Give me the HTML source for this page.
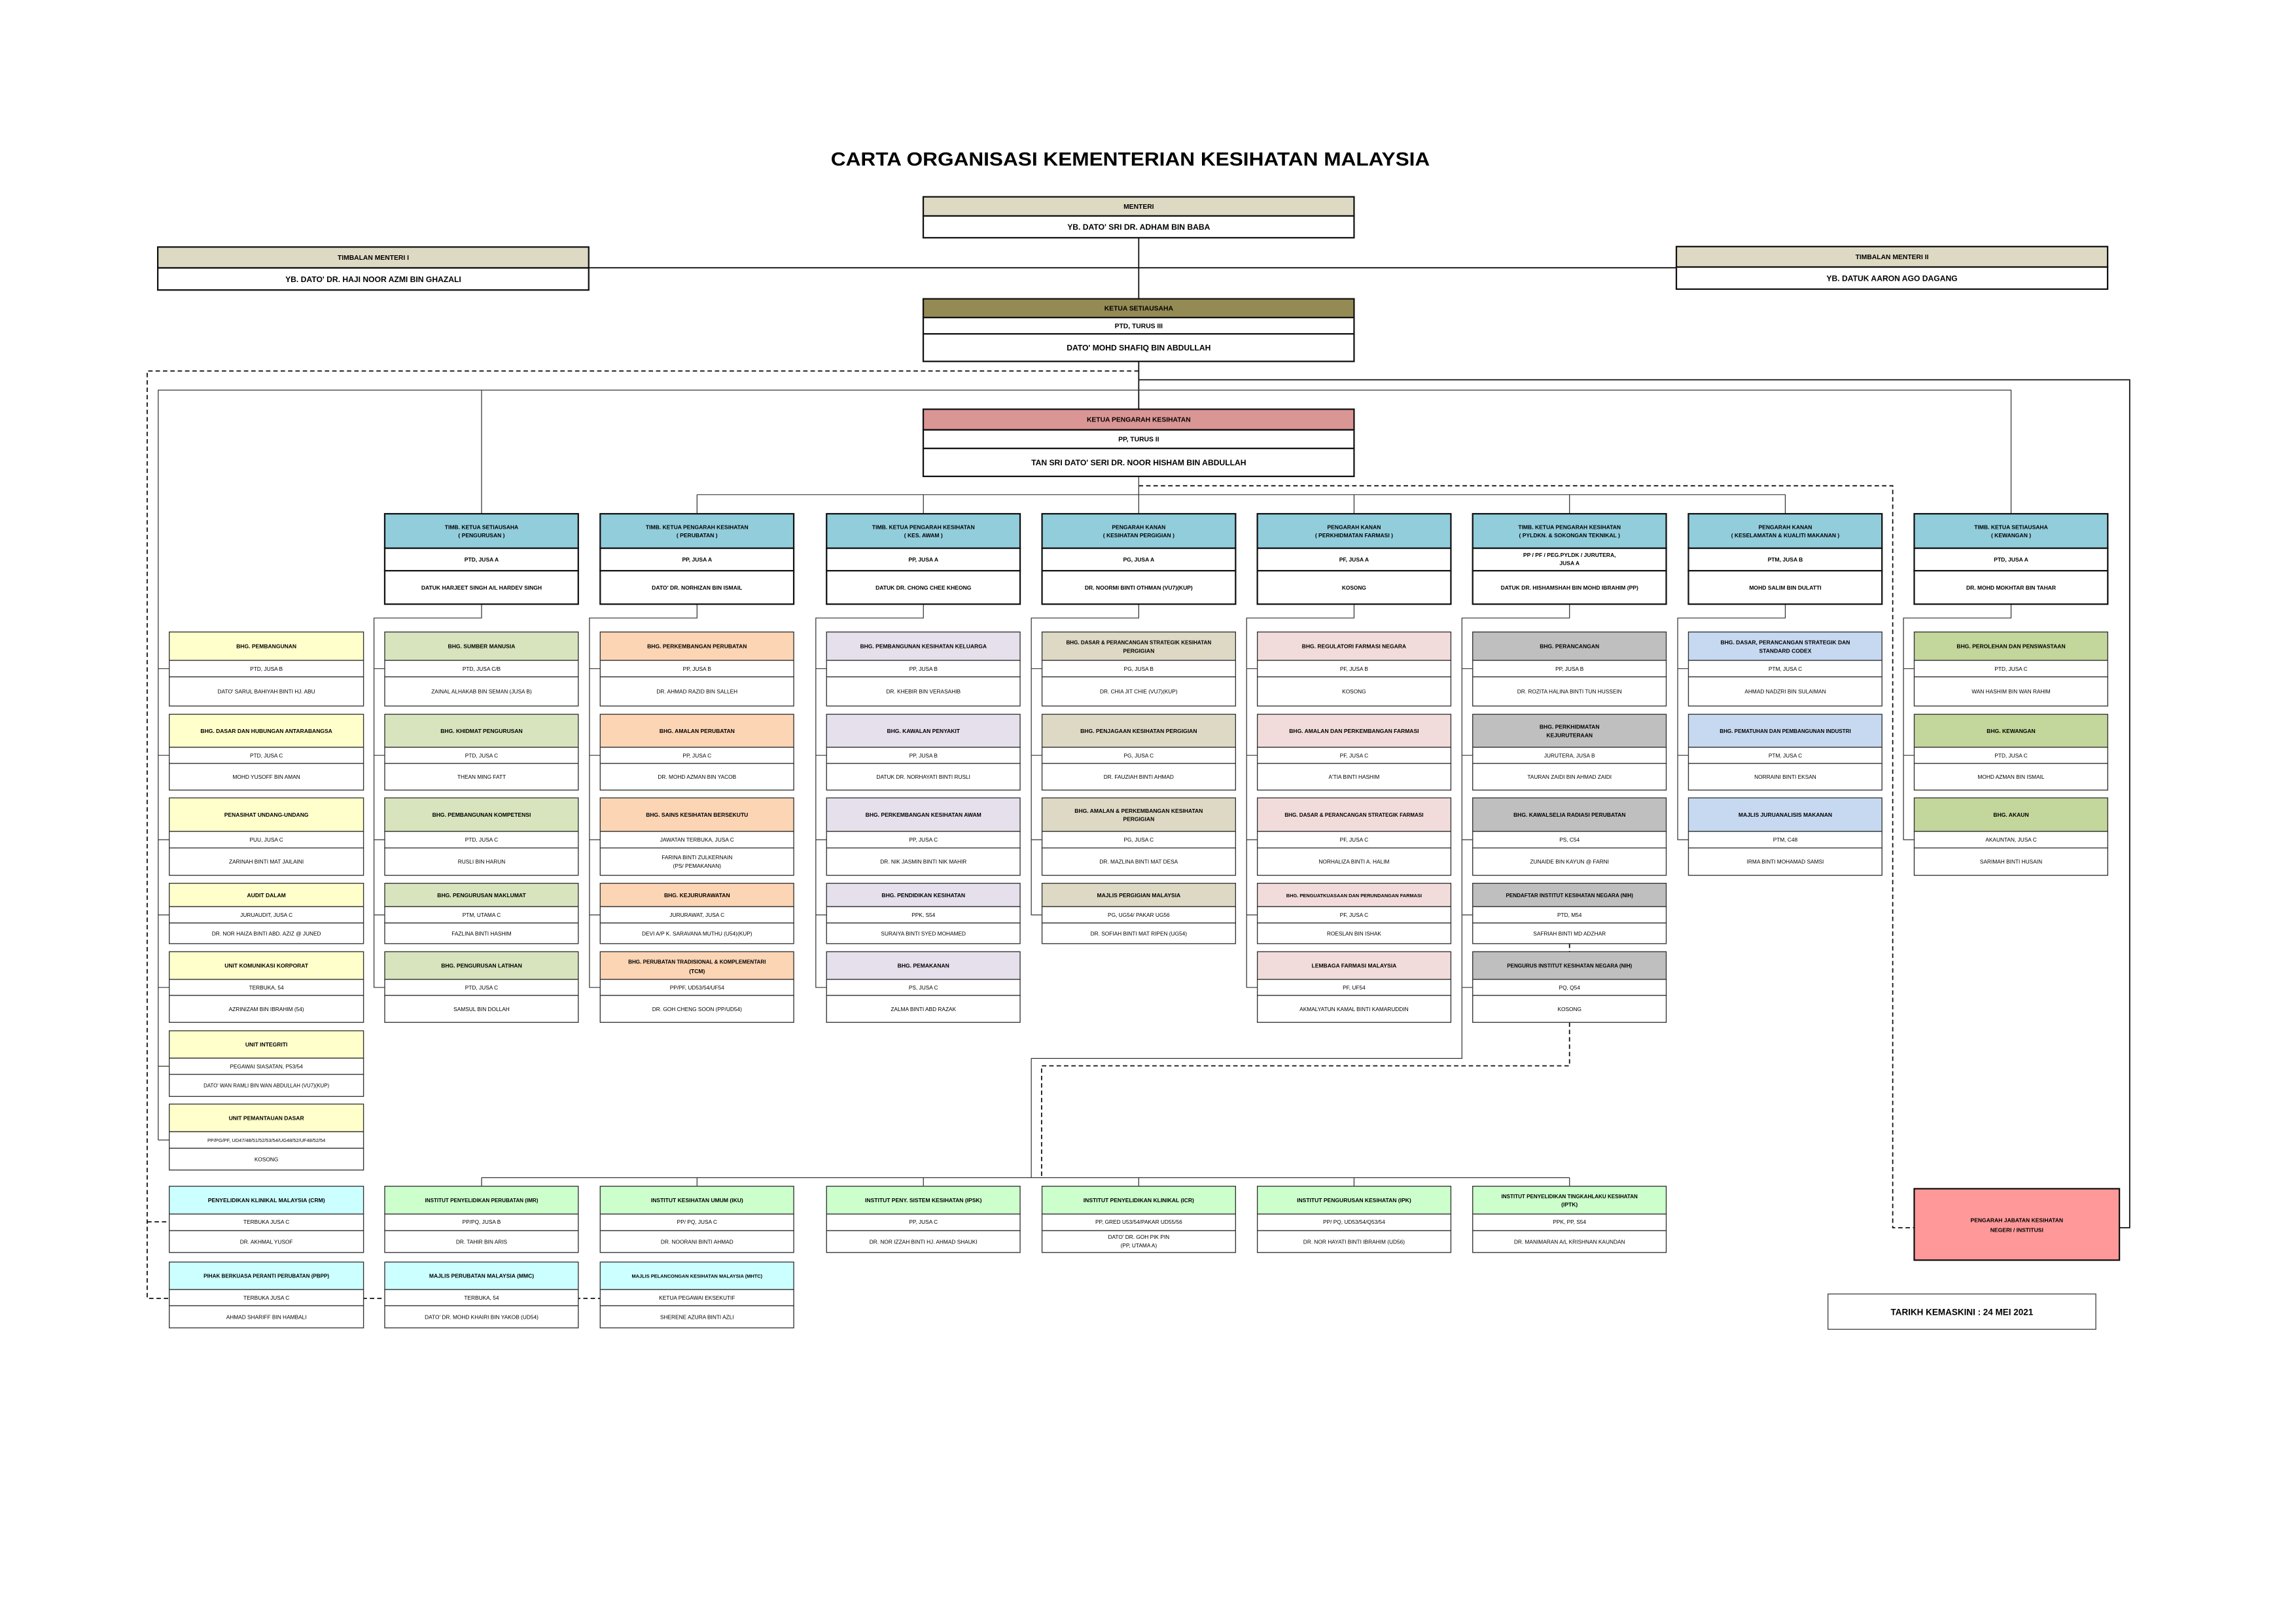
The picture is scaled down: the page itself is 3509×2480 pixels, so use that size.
<!DOCTYPE html>
<html><head><meta charset="utf-8"><style>
html,body{margin:0;padding:0;background:#fff}
svg{display:block}
text{font-family:"Liberation Sans",Arial,sans-serif;text-anchor:middle;fill:#000}
.b{stroke:#333;stroke-width:.6}
.B{stroke:#111;stroke-width:1}
.h{font-weight:bold;font-size:3.8px}
.g{font-size:3.7px}
.t{font-weight:bold;font-size:4.6px}
.T{font-weight:bold;font-size:5.4px}
.l{stroke:#333;stroke-width:.55;fill:none}
.L{stroke:#111;stroke-width:.8;fill:none}
.d{stroke:#111;stroke-width:.8;fill:none;stroke-dasharray:3 2}
</style></head><body>
<svg xmlns="http://www.w3.org/2000/svg" width="3509" height="2480" viewBox="0 0 1560 1102.5" preserveAspectRatio="none">
<rect x="0" y="0" width="1560" height="1102.5" fill="#fff"/>
<text x="768" y="112.5" style="font-weight:bold;font-size:12.6px" textLength="407" lengthAdjust="spacingAndGlyphs">CARTA ORGANISASI KEMENTERIAN KESIHATAN MALAYSIA</text>

<!-- connectors -->
<path class="L" d="M773.7 161.5V278M400 181.9H1139"/>
<path class="d" d="M773.7 252H100V882H410M100 830H115"/>
<path class="L" d="M773.7 258H1447V834H1440"/>
<path class="l" d="M107.5 774.4V265H1366.4V349M327.2 265V349"/>
<path class="d" d="M773.7 330H1286V834H1300.6"/>
<path class="l" d="M773.7 323.6V349M473.6 336H1213M473.6 336V349M627.4 336V349M920 336V349M1066.4 336V349M1213 336V349"/>
<!-- column 0 ticks -->
<path class="l" d="M107.5 454.2H115M107.5 513.1H115M107.5 570.4H115M107.5 621.5H115M107.5 670.75H115M107.5 724.3H115M107.5 774.4H115"/>
<!-- deputy connectors -->
<path class="l" d="M327.2 410.4V419.8H254.1V670.75H261.4M254.1 454.2H261.4M254.1 513.1H261.4M254.1 570.4H261.4M254.1 621.5H261.4"/>
<path class="l" d="M473.6 410.4V419.8H400.5V670.75H407.8M400.5 454.2H407.8M400.5 513.1H407.8M400.5 570.4H407.8M400.5 621.5H407.8"/>
<path class="l" d="M627.4 410.4V419.8H554.3V670.75H561.6M554.3 454.2H561.6M554.3 513.1H561.6M554.3 570.4H561.6M554.3 621.5H561.6"/>
<path class="l" d="M773.7 410.4V419.8H700.7V621.5H708M700.7 454.2H708M700.7 513.1H708M700.7 570.4H708"/>
<path class="l" d="M920 410.4V419.8H847V670.75H854.3M847 454.2H854.3M847 513.1H854.3M847 570.4H854.3M847 621.5H854.3"/>
<path class="l" d="M1066.4 410.4V419.8H993.3V719H700.7V800M993.3 454.2H1000.6M993.3 513.1H1000.6M993.3 570.4H1000.6M993.3 621.5H1000.6M993.3 670.75H1000.6"/>
<path class="l" d="M1213 410.4V419.8H1139.9V570.4H1147.2M1139.9 454.2H1147.2M1139.9 513.1H1147.2"/>
<path class="l" d="M1366.4 410.4V419.8H1293.3V570.4H1300.6M1293.3 454.2H1300.6M1293.3 513.1H1300.6"/>
<path class="d" d="M1066.4 694.5V724H707.7V800M1066.4 641V646.5"/>
<path class="l" d="M327.2 800H1066.4M327.2 800V805.8M473.6 800V805.8M627.4 800V805.8M773.7 800V805.8M920 800V805.8M1066.4 800V805.8"/>

<!-- top boxes -->
<g>
<rect class="B" x="627.3" y="133.7" width="292.7" height="13" fill="#ddd9c3"/>
<rect class="B" x="627.3" y="146.7" width="292.7" height="14.8" fill="#fff"/>
<text class="t" x="773.7" y="141.9">MENTERI</text>
<text class="T" x="773.7" y="156">YB. DATO' SRI DR. ADHAM BIN BABA</text>

<rect class="B" x="107.2" y="167.8" width="292.8" height="14.2" fill="#ddd9c3"/>
<rect class="B" x="107.2" y="182" width="292.8" height="15" fill="#fff"/>
<text class="t" x="253.6" y="176.5">TIMBALAN MENTERI I</text>
<text class="T" x="253.6" y="191.5">YB. DATO' DR. HAJI NOOR AZMI BIN GHAZALI</text>

<rect class="B" x="1139" y="167.5" width="293" height="13.9" fill="#ddd9c3"/>
<rect class="B" x="1139" y="181.4" width="293" height="15" fill="#fff"/>
<text class="t" x="1285.5" y="176.1">TIMBALAN MENTERI II</text>
<text class="T" x="1285.5" y="190.9">YB. DATUK AARON AGO DAGANG</text>

<rect class="B" x="627.3" y="203" width="292.7" height="12.7" fill="#948a54"/>
<rect class="B" x="627.3" y="215.7" width="292.7" height="11.1" fill="#fff"/>
<rect class="B" x="627.3" y="226.8" width="292.7" height="18.7" fill="#fff"/>
<text class="t" x="773.7" y="211">KETUA SETIAUSAHA</text>
<text class="t" x="773.7" y="222.9">PTD, TURUS III</text>
<text class="T" x="773.7" y="238.1">DATO' MOHD SHAFIQ BIN ABDULLAH</text>

<rect class="B" x="627.3" y="278" width="292.7" height="14" fill="#da9694"/>
<rect class="B" x="627.3" y="292" width="292.7" height="12.6" fill="#fff"/>
<rect class="B" x="627.3" y="304.6" width="292.7" height="19" fill="#fff"/>
<text class="t" x="773.7" y="286.6">KETUA PENGARAH KESIHATAN</text>
<text class="t" x="773.7" y="299.9">PP, TURUS II</text>
<text class="T" x="773.7" y="316">TAN SRI DATO' SERI DR. NOOR HISHAM BIN ABDULLAH</text>
</g>

<!-- deputies -->
<g font-weight="bold">
<rect class="B" x="261.4" y="349" width="131.5" height="23.4" fill="#92cddc"/><rect class="B" x="261.4" y="372.4" width="131.5" height="15.3" fill="#fff"/><rect class="B" x="261.4" y="387.7" width="131.5" height="22.7" fill="#fff"/>
<text class="h" x="327.2" y="359.4">TIMB. KETUA SETIAUSAHA</text><text class="h" x="327.2" y="364.9">( PENGURUSAN )</text><text class="h" x="327.2" y="381.4">PTD, JUSA A</text><text class="h" x="327.2" y="400.5">DATUK HARJEET SINGH A/L HARDEV SINGH</text>

<rect class="B" x="407.8" y="349" width="131.5" height="23.4" fill="#92cddc"/><rect class="B" x="407.8" y="372.4" width="131.5" height="15.3" fill="#fff"/><rect class="B" x="407.8" y="387.7" width="131.5" height="22.7" fill="#fff"/>
<text class="h" x="473.6" y="359.4">TIMB. KETUA PENGARAH KESIHATAN</text><text class="h" x="473.6" y="364.9">( PERUBATAN )</text><text class="h" x="473.6" y="381.4">PP, JUSA A</text><text class="h" x="473.6" y="400.5">DATO' DR. NORHIZAN BIN ISMAIL</text>

<rect class="B" x="561.6" y="349" width="131.5" height="23.4" fill="#92cddc"/><rect class="B" x="561.6" y="372.4" width="131.5" height="15.3" fill="#fff"/><rect class="B" x="561.6" y="387.7" width="131.5" height="22.7" fill="#fff"/>
<text class="h" x="627.4" y="359.4">TIMB. KETUA PENGARAH KESIHATAN</text><text class="h" x="627.4" y="364.9">( KES. AWAM )</text><text class="h" x="627.4" y="381.4">PP, JUSA A</text><text class="h" x="627.4" y="400.5">DATUK DR. CHONG CHEE KHEONG</text>

<rect class="B" x="708" y="349" width="131.5" height="23.4" fill="#92cddc"/><rect class="B" x="708" y="372.4" width="131.5" height="15.3" fill="#fff"/><rect class="B" x="708" y="387.7" width="131.5" height="22.7" fill="#fff"/>
<text class="h" x="773.7" y="359.4">PENGARAH KANAN</text><text class="h" x="773.7" y="364.9">( KESIHATAN PERGIGIAN )</text><text class="h" x="773.7" y="381.4">PG, JUSA A</text><text class="h" x="773.7" y="400.5">DR. NOORMI BINTI OTHMAN (VU7)(KUP)</text>

<rect class="B" x="854.3" y="349" width="131.5" height="23.4" fill="#92cddc"/><rect class="B" x="854.3" y="372.4" width="131.5" height="15.3" fill="#fff"/><rect class="B" x="854.3" y="387.7" width="131.5" height="22.7" fill="#fff"/>
<text class="h" x="920" y="359.4">PENGARAH KANAN</text><text class="h" x="920" y="364.9">( PERKHIDMATAN FARMASI )</text><text class="h" x="920" y="381.4">PF, JUSA A</text><text class="g" x="920" y="400.5">KOSONG</text>

<rect class="B" x="1000.6" y="349" width="131.5" height="23.4" fill="#92cddc"/><rect class="B" x="1000.6" y="372.4" width="131.5" height="15.3" fill="#fff"/><rect class="B" x="1000.6" y="387.7" width="131.5" height="22.7" fill="#fff"/>
<text class="h" x="1066.4" y="359.4">TIMB. KETUA PENGARAH KESIHATAN</text><text class="h" x="1066.4" y="364.9">( PYLDKN. &amp; SOKONGAN TEKNIKAL )</text><text class="h" x="1066.4" y="378.4">PP / PF / PEG.PYLDK / JURUTERA,</text><text class="h" x="1066.4" y="383.9">JUSA A</text><text class="h" x="1066.4" y="400.5">DATUK DR. HISHAMSHAH BIN MOHD IBRAHIM (PP)</text>

<rect class="B" x="1147.2" y="349" width="131.5" height="23.4" fill="#92cddc"/><rect class="B" x="1147.2" y="372.4" width="131.5" height="15.3" fill="#fff"/><rect class="B" x="1147.2" y="387.7" width="131.5" height="22.7" fill="#fff"/>
<text class="h" x="1213" y="359.4">PENGARAH KANAN</text><text class="h" x="1213" y="364.9">( KESELAMATAN &amp; KUALITI MAKANAN )</text><text class="h" x="1213" y="381.4">PTM, JUSA B</text><text class="h" x="1213" y="400.5">MOHD SALIM BIN DULATTI</text>

<rect class="B" x="1300.6" y="349" width="131.5" height="23.4" fill="#92cddc"/><rect class="B" x="1300.6" y="372.4" width="131.5" height="15.3" fill="#fff"/><rect class="B" x="1300.6" y="387.7" width="131.5" height="22.7" fill="#fff"/>
<text class="h" x="1366.4" y="359.4">TIMB. KETUA  SETIAUSAHA</text><text class="h" x="1366.4" y="364.9">( KEWANGAN )</text><text class="h" x="1366.4" y="381.4">PTD, JUSA A</text><text class="h" x="1366.4" y="400.5">DR. MOHD MOKHTAR BIN TAHAR</text>
</g>

<!-- COLUMN 0 -->
<g>
<rect class="b" x="115" y="429.3" width="132" height="19.3" fill="#ffffcc"/><rect class="b" x="115" y="448.6" width="132" height="11.2" fill="#fff"/><rect class="b" x="115" y="459.8" width="132" height="19.8" fill="#fff"/>
<text class="h" x="181" y="440.4">BHG. PEMBANGUNAN</text><text class="g" x="181" y="455.6">PTD, JUSA B</text><text class="g" x="181" y="471.1">DATO' SARUL BAHIYAH BINTI HJ. ABU</text>
<rect class="b" x="115" y="485.2" width="132" height="22.4" fill="#ffffcc"/><rect class="b" x="115" y="507.6" width="132" height="11" fill="#fff"/><rect class="b" x="115" y="518.6" width="132" height="18.1" fill="#fff"/>
<text class="h" x="181" y="497.9">BHG. DASAR DAN HUBUNGAN ANTARABANGSA</text><text class="g" x="181" y="514.5">PTD, JUSA C</text><text class="g" x="181" y="529.1">MOHD YUSOFF BIN AMAN</text>
<rect class="b" x="115" y="542" width="132" height="22.8" fill="#ffffcc"/><rect class="b" x="115" y="564.8" width="132" height="11.2" fill="#fff"/><rect class="b" x="115" y="576" width="132" height="18.6" fill="#fff"/>
<text class="h" x="181" y="554.9">PENASIHAT UNDANG-UNDANG</text><text class="g" x="181" y="571.8">PUU, JUSA C</text><text class="g" x="181" y="586.7">ZARINAH BINTI MAT JAILAINI</text>
<rect class="b" x="115" y="600" width="132" height="15.9" fill="#ffffcc"/><rect class="b" x="115" y="615.9" width="132" height="11.1" fill="#fff"/><rect class="b" x="115" y="627" width="132" height="14" fill="#fff"/>
<text class="h" x="181" y="609.4">AUDIT DALAM</text><text class="g" x="181" y="622.9">JURUAUDIT, JUSA C</text><text class="g" x="181" y="635.4">DR. NOR HAIZA BINTI ABD. AZIZ @ JUNED</text>
<rect class="b" x="115" y="646.5" width="132" height="18.8" fill="#ffffcc"/><rect class="b" x="115" y="665.3" width="132" height="10.9" fill="#fff"/><rect class="b" x="115" y="676.2" width="132" height="18.3" fill="#fff"/>
<text class="h" x="181" y="657.3">UNIT KOMUNIKASI KORPORAT</text><text class="g" x="181" y="672.2">TERBUKA, 54</text><text class="g" x="181" y="686.8">AZRINIZAM BIN IBRAHIM (54)</text>
<rect class="b" x="115" y="700.2" width="132" height="18.6" fill="#ffffcc"/><rect class="b" x="115" y="718.8" width="132" height="11" fill="#fff"/><rect class="b" x="115" y="729.8" width="132" height="15" fill="#fff"/>
<text class="h" x="181" y="710.9">UNIT INTEGRITI</text><text class="g" x="181" y="725.7">PEGAWAI SIASATAN, P53/54</text><text class="g" x="181" y="738.7" style="font-size:3.5px">DATO' WAN RAMLI BIN WAN ABDULLAH (VU7)(KUP)</text>
<rect class="b" x="115" y="750" width="132" height="18.8" fill="#ffffcc"/><rect class="b" x="115" y="768.8" width="132" height="11.2" fill="#fff"/><rect class="b" x="115" y="780" width="132" height="14.8" fill="#fff"/>
<text class="h" x="181" y="760.8">UNIT PEMANTAUAN DASAR</text><text class="g" x="181" y="775.8" style="font-size:3.3px">PP/PG/PF,  UD47/48/51/52/53/54/UG48/52/UF48/52/54</text><text class="g" x="181" y="788.8">KOSONG</text>
</g>

<!-- COLUMN 1 -->
<g>
<rect class="b" x="261.4" y="429.3" width="131.5" height="19.3" fill="#d7e4bd"/><rect class="b" x="261.4" y="448.6" width="131.5" height="11.2" fill="#fff"/><rect class="b" x="261.4" y="459.8" width="131.5" height="19.8" fill="#fff"/>
<text class="h" x="327.2" y="440.4">BHG. SUMBER MANUSIA</text><text class="g" x="327.2" y="455.6">PTD, JUSA C/B</text><text class="g" x="327.2" y="471.1">ZAINAL ALHAKAB BIN SEMAN (JUSA B)</text>
<rect class="b" x="261.4" y="485.2" width="131.5" height="22.4" fill="#d7e4bd"/><rect class="b" x="261.4" y="507.6" width="131.5" height="11" fill="#fff"/><rect class="b" x="261.4" y="518.6" width="131.5" height="18.1" fill="#fff"/>
<text class="h" x="327.2" y="497.9">BHG. KHIDMAT PENGURUSAN</text><text class="g" x="327.2" y="514.5">PTD, JUSA C</text><text class="g" x="327.2" y="529.1">THEAN MING FATT</text>
<rect class="b" x="261.4" y="542" width="131.5" height="22.8" fill="#d7e4bd"/><rect class="b" x="261.4" y="564.8" width="131.5" height="11.2" fill="#fff"/><rect class="b" x="261.4" y="576" width="131.5" height="18.6" fill="#fff"/>
<text class="h" x="327.2" y="554.9">BHG. PEMBANGUNAN KOMPETENSI</text><text class="g" x="327.2" y="571.8">PTD, JUSA C</text><text class="g" x="327.2" y="586.7">RUSLI BIN HARUN</text>
<rect class="b" x="261.4" y="600" width="131.5" height="15.9" fill="#d7e4bd"/><rect class="b" x="261.4" y="615.9" width="131.5" height="11.1" fill="#fff"/><rect class="b" x="261.4" y="627" width="131.5" height="14" fill="#fff"/>
<text class="h" x="327.2" y="609.4">BHG. PENGURUSAN MAKLUMAT</text><text class="g" x="327.2" y="622.9">PTM, UTAMA C</text><text class="g" x="327.2" y="635.4">FAZLINA BINTI HASHIM</text>
<rect class="b" x="261.4" y="646.5" width="131.5" height="18.8" fill="#d7e4bd"/><rect class="b" x="261.4" y="665.3" width="131.5" height="10.9" fill="#fff"/><rect class="b" x="261.4" y="676.2" width="131.5" height="18.3" fill="#fff"/>
<text class="h" x="327.2" y="657.3">BHG. PENGURUSAN LATIHAN</text><text class="g" x="327.2" y="672.2">PTD, JUSA C</text><text class="g" x="327.2" y="686.8">SAMSUL BIN DOLLAH</text>
</g>

<!-- COLUMN 2 -->
<g>
<rect class="b" x="407.8" y="429.3" width="131.5" height="19.3" fill="#fcd5b5"/><rect class="b" x="407.8" y="448.6" width="131.5" height="11.2" fill="#fff"/><rect class="b" x="407.8" y="459.8" width="131.5" height="19.8" fill="#fff"/>
<text class="h" x="473.6" y="440.4">BHG. PERKEMBANGAN PERUBATAN</text><text class="g" x="473.6" y="455.6">PP, JUSA B</text><text class="g" x="473.6" y="471.1">DR. AHMAD RAZID BIN SALLEH</text>
<rect class="b" x="407.8" y="485.2" width="131.5" height="22.4" fill="#fcd5b5"/><rect class="b" x="407.8" y="507.6" width="131.5" height="11" fill="#fff"/><rect class="b" x="407.8" y="518.6" width="131.5" height="18.1" fill="#fff"/>
<text class="h" x="473.6" y="497.9">BHG. AMALAN PERUBATAN</text><text class="g" x="473.6" y="514.5">PP, JUSA C</text><text class="g" x="473.6" y="529.1">DR. MOHD AZMAN BIN YACOB</text>
<rect class="b" x="407.8" y="542" width="131.5" height="22.8" fill="#fcd5b5"/><rect class="b" x="407.8" y="564.8" width="131.5" height="11.2" fill="#fff"/><rect class="b" x="407.8" y="576" width="131.5" height="18.6" fill="#fff"/>
<text class="h" x="473.6" y="554.9">BHG. SAINS KESIHATAN BERSEKUTU</text><text class="g" x="473.6" y="571.8">JAWATAN TERBUKA, JUSA C</text><text class="g" x="473.6" y="583.7">FARINA BINTI ZULKERNAIN</text><text class="g" x="473.6" y="589.5">(PS/ PEMAKANAN)</text>
<rect class="b" x="407.8" y="600" width="131.5" height="15.9" fill="#fcd5b5"/><rect class="b" x="407.8" y="615.9" width="131.5" height="11.1" fill="#fff"/><rect class="b" x="407.8" y="627" width="131.5" height="14" fill="#fff"/>
<text class="h" x="473.6" y="609.4">BHG. KEJURURAWATAN</text><text class="g" x="473.6" y="622.9">JURURAWAT, JUSA C</text><text class="g" x="473.6" y="635.4">DEVI A/P K. SARAVANA MUTHU (U54)(KUP)</text>
<rect class="b" x="407.8" y="646.5" width="131.5" height="18.8" fill="#fcd5b5"/><rect class="b" x="407.8" y="665.3" width="131.5" height="10.9" fill="#fff"/><rect class="b" x="407.8" y="676.2" width="131.5" height="18.3" fill="#fff"/>
<text class="h" x="473.6" y="654.6" style="font-size:3.6px">BHG. PERUBATAN TRADISIONAL &amp; KOMPLEMENTARI</text><text class="h" x="473.6" y="661.1">(TCM)</text><text class="g" x="473.6" y="672.2">PP/PF, UD53/54/UF54</text><text class="g" x="473.6" y="686.8">DR. GOH CHENG SOON (PP/UD54)</text>
</g>

<!-- COLUMN 3 -->
<g>
<rect class="b" x="561.6" y="429.3" width="131.5" height="19.3" fill="#e5e0ec"/><rect class="b" x="561.6" y="448.6" width="131.5" height="11.2" fill="#fff"/><rect class="b" x="561.6" y="459.8" width="131.5" height="19.8" fill="#fff"/>
<text class="h" x="627.4" y="440.4">BHG. PEMBANGUNAN KESIHATAN KELUARGA</text><text class="g" x="627.4" y="455.6">PP, JUSA B</text><text class="g" x="627.4" y="471.1">DR. KHEBIR BIN VERASAHIB</text>
<rect class="b" x="561.6" y="485.2" width="131.5" height="22.4" fill="#e5e0ec"/><rect class="b" x="561.6" y="507.6" width="131.5" height="11" fill="#fff"/><rect class="b" x="561.6" y="518.6" width="131.5" height="18.1" fill="#fff"/>
<text class="h" x="627.4" y="497.9">BHG. KAWALAN PENYAKIT</text><text class="g" x="627.4" y="514.5">PP, JUSA B</text><text class="g" x="627.4" y="529.1">DATUK DR. NORHAYATI BINTI RUSLI</text>
<rect class="b" x="561.6" y="542" width="131.5" height="22.8" fill="#e5e0ec"/><rect class="b" x="561.6" y="564.8" width="131.5" height="11.2" fill="#fff"/><rect class="b" x="561.6" y="576" width="131.5" height="18.6" fill="#fff"/>
<text class="h" x="627.4" y="554.9">BHG. PERKEMBANGAN KESIHATAN AWAM</text><text class="g" x="627.4" y="571.8">PP, JUSA C</text><text class="g" x="627.4" y="586.7">DR. NIK JASMIN BINTI NIK MAHIR</text>
<rect class="b" x="561.6" y="600" width="131.5" height="15.9" fill="#e5e0ec"/><rect class="b" x="561.6" y="615.9" width="131.5" height="11.1" fill="#fff"/><rect class="b" x="561.6" y="627" width="131.5" height="14" fill="#fff"/>
<text class="h" x="627.4" y="609.4">BHG. PENDIDIKAN KESIHATAN</text><text class="g" x="627.4" y="622.9">PPK, S54</text><text class="g" x="627.4" y="635.4">SURAIYA BINTI SYED MOHAMED</text>
<rect class="b" x="561.6" y="646.5" width="131.5" height="18.8" fill="#e5e0ec"/><rect class="b" x="561.6" y="665.3" width="131.5" height="10.9" fill="#fff"/><rect class="b" x="561.6" y="676.2" width="131.5" height="18.3" fill="#fff"/>
<text class="h" x="627.4" y="657.3">BHG. PEMAKANAN</text><text class="g" x="627.4" y="672.2">PS, JUSA C</text><text class="g" x="627.4" y="686.8">ZALMA BINTI ABD RAZAK</text>
</g>

<!-- COLUMN 4 -->
<g>
<rect class="b" x="708" y="429.3" width="131.5" height="19.3" fill="#ddd9c4"/><rect class="b" x="708" y="448.6" width="131.5" height="11.2" fill="#fff"/><rect class="b" x="708" y="459.8" width="131.5" height="19.8" fill="#fff"/>
<text class="h" x="773.7" y="437.7" style="font-size:3.6px">BHG. DASAR &amp; PERANCANGAN STRATEGIK KESIHATAN</text><text class="h" x="773.7" y="443.4">PERGIGIAN</text><text class="g" x="773.7" y="455.6">PG, JUSA B</text><text class="g" x="773.7" y="471.1">DR. CHIA JIT CHIE (VU7)(KUP)</text>
<rect class="b" x="708" y="485.2" width="131.5" height="22.4" fill="#ddd9c4"/><rect class="b" x="708" y="507.6" width="131.5" height="11" fill="#fff"/><rect class="b" x="708" y="518.6" width="131.5" height="18.1" fill="#fff"/>
<text class="h" x="773.7" y="497.9">BHG. PENJAGAAN KESIHATAN PERGIGIAN</text><text class="g" x="773.7" y="514.5">PG, JUSA C</text><text class="g" x="773.7" y="529.1">DR. FAUZIAH BINTI AHMAD</text>
<rect class="b" x="708" y="542" width="131.5" height="22.8" fill="#ddd9c4"/><rect class="b" x="708" y="564.8" width="131.5" height="11.2" fill="#fff"/><rect class="b" x="708" y="576" width="131.5" height="18.6" fill="#fff"/>
<text class="h" x="773.7" y="552.1">BHG. AMALAN &amp; PERKEMBANGAN KESIHATAN</text><text class="h" x="773.7" y="557.8">PERGIGIAN</text><text class="g" x="773.7" y="571.8">PG, JUSA C</text><text class="g" x="773.7" y="586.7">DR. MAZLINA BINTI MAT DESA</text>
<rect class="b" x="708" y="600" width="131.5" height="15.9" fill="#ddd9c4"/><rect class="b" x="708" y="615.9" width="131.5" height="11.1" fill="#fff"/><rect class="b" x="708" y="627" width="131.5" height="14" fill="#fff"/>
<text class="h" x="773.7" y="609.4">MAJLIS PERGIGIAN MALAYSIA</text><text class="g" x="773.7" y="622.9">PG, UG54/ PAKAR UG56</text><text class="g" x="773.7" y="635.4">DR. SOFIAH BINTI MAT RIPEN (UG54)</text>
</g>

<!-- COLUMN 5 -->
<g>
<rect class="b" x="854.3" y="429.3" width="131.5" height="19.3" fill="#f2dcdb"/><rect class="b" x="854.3" y="448.6" width="131.5" height="11.2" fill="#fff"/><rect class="b" x="854.3" y="459.8" width="131.5" height="19.8" fill="#fff"/>
<text class="h" x="920" y="440.4">BHG. REGULATORI FARMASI NEGARA</text><text class="g" x="920" y="455.6">PF, JUSA B</text><text class="g" x="920" y="471.1">KOSONG</text>
<rect class="b" x="854.3" y="485.2" width="131.5" height="22.4" fill="#f2dcdb"/><rect class="b" x="854.3" y="507.6" width="131.5" height="11" fill="#fff"/><rect class="b" x="854.3" y="518.6" width="131.5" height="18.1" fill="#fff"/>
<text class="h" x="920" y="497.9">BHG. AMALAN DAN PERKEMBANGAN FARMASI</text><text class="g" x="920" y="514.5">PF, JUSA C</text><text class="g" x="920" y="529.1">A'TIA BINTI HASHIM</text>
<rect class="b" x="854.3" y="542" width="131.5" height="22.8" fill="#f2dcdb"/><rect class="b" x="854.3" y="564.8" width="131.5" height="11.2" fill="#fff"/><rect class="b" x="854.3" y="576" width="131.5" height="18.6" fill="#fff"/>
<text class="h" x="920" y="554.9" style="font-size:3.6px">BHG. DASAR &amp; PERANCANGAN STRATEGIK FARMASI</text><text class="g" x="920" y="571.8">PF, JUSA C</text><text class="g" x="920" y="586.7">NORHALIZA BINTI A. HALIM</text>
<rect class="b" x="854.3" y="600" width="131.5" height="15.9" fill="#f2dcdb"/><rect class="b" x="854.3" y="615.9" width="131.5" height="11.1" fill="#fff"/><rect class="b" x="854.3" y="627" width="131.5" height="14" fill="#fff"/>
<text class="h" x="920" y="609.4" style="font-size:3.3px">BHG. PENGUATKUASAAN DAN PERUNDANGAN FARMASI</text><text class="g" x="920" y="622.9">PF, JUSA C</text><text class="g" x="920" y="635.4">ROESLAN BIN ISHAK</text>
<rect class="b" x="854.3" y="646.5" width="131.5" height="18.8" fill="#f2dcdb"/><rect class="b" x="854.3" y="665.3" width="131.5" height="10.9" fill="#fff"/><rect class="b" x="854.3" y="676.2" width="131.5" height="18.3" fill="#fff"/>
<text class="h" x="920" y="657.3">LEMBAGA FARMASI MALAYSIA</text><text class="g" x="920" y="672.2">PF, UF54</text><text class="g" x="920" y="686.8">AKMALYATUN KAMAL BINTI KAMARUDDIN</text>
</g>

<!-- COLUMN 6 -->
<g>
<rect class="b" x="1000.6" y="429.3" width="131.5" height="19.3" fill="#bfbfbf"/><rect class="b" x="1000.6" y="448.6" width="131.5" height="11.2" fill="#fff"/><rect class="b" x="1000.6" y="459.8" width="131.5" height="19.8" fill="#fff"/>
<text class="h" x="1066.4" y="440.4">BHG. PERANCANGAN</text><text class="g" x="1066.4" y="455.6">PP, JUSA B</text><text class="g" x="1066.4" y="471.1">DR. ROZITA HALINA BINTI TUN HUSSEIN</text>
<rect class="b" x="1000.6" y="485.2" width="131.5" height="22.4" fill="#bfbfbf"/><rect class="b" x="1000.6" y="507.6" width="131.5" height="11" fill="#fff"/><rect class="b" x="1000.6" y="518.6" width="131.5" height="18.1" fill="#fff"/>
<text class="h" x="1066.4" y="495.1">BHG. PERKHIDMATAN</text><text class="h" x="1066.4" y="500.8">KEJURUTERAAN</text><text class="g" x="1066.4" y="514.5">JURUTERA,  JUSA B</text><text class="g" x="1066.4" y="529.1">TAURAN ZAIDI BIN AHMAD ZAIDI</text>
<rect class="b" x="1000.6" y="542" width="131.5" height="22.8" fill="#bfbfbf"/><rect class="b" x="1000.6" y="564.8" width="131.5" height="11.2" fill="#fff"/><rect class="b" x="1000.6" y="576" width="131.5" height="18.6" fill="#fff"/>
<text class="h" x="1066.4" y="554.9">BHG. KAWALSELIA RADIASI PERUBATAN</text><text class="g" x="1066.4" y="571.8">PS, C54</text><text class="g" x="1066.4" y="586.7">ZUNAIDE BIN KAYUN @ FARNI</text>
<rect class="b" x="1000.6" y="600" width="131.5" height="15.9" fill="#bfbfbf"/><rect class="b" x="1000.6" y="615.9" width="131.5" height="11.1" fill="#fff"/><rect class="b" x="1000.6" y="627" width="131.5" height="14" fill="#fff"/>
<text class="h" x="1066.4" y="609.4" style="font-size:3.6px">PENDAFTAR INSTITUT KESIHATAN NEGARA (NIH)</text><text class="g" x="1066.4" y="622.9">PTD, M54</text><text class="g" x="1066.4" y="635.4">SAFRIAH BINTI MD ADZHAR</text>
<rect class="b" x="1000.6" y="646.5" width="131.5" height="18.8" fill="#bfbfbf"/><rect class="b" x="1000.6" y="665.3" width="131.5" height="10.9" fill="#fff"/><rect class="b" x="1000.6" y="676.2" width="131.5" height="18.3" fill="#fff"/>
<text class="h" x="1066.4" y="657.3" style="font-size:3.6px">PENGURUS INSTITUT KESIHATAN NEGARA (NIH)</text><text class="g" x="1066.4" y="672.2">PQ, Q54</text><text class="g" x="1066.4" y="686.8">KOSONG</text>
</g>

<!-- COLUMN 7 -->
<g>
<rect class="b" x="1147.2" y="429.3" width="131.5" height="19.3" fill="#c6d9f1"/><rect class="b" x="1147.2" y="448.6" width="131.5" height="11.2" fill="#fff"/><rect class="b" x="1147.2" y="459.8" width="131.5" height="19.8" fill="#fff"/>
<text class="h" x="1213" y="437.7">BHG. DASAR, PERANCANGAN STRATEGIK DAN</text><text class="h" x="1213" y="443.4">STANDARD CODEX</text><text class="g" x="1213" y="455.6">PTM, JUSA C</text><text class="g" x="1213" y="471.1">AHMAD NADZRI BIN SULAIMAN</text>
<rect class="b" x="1147.2" y="485.2" width="131.5" height="22.4" fill="#c6d9f1"/><rect class="b" x="1147.2" y="507.6" width="131.5" height="11" fill="#fff"/><rect class="b" x="1147.2" y="518.6" width="131.5" height="18.1" fill="#fff"/>
<text class="h" x="1213" y="497.9" style="font-size:3.6px">BHG. PEMATUHAN DAN PEMBANGUNAN INDUSTRI</text><text class="g" x="1213" y="514.5">PTM, JUSA C</text><text class="g" x="1213" y="529.1">NORRAINI BINTI EKSAN</text>
<rect class="b" x="1147.2" y="542" width="131.5" height="22.8" fill="#c6d9f1"/><rect class="b" x="1147.2" y="564.8" width="131.5" height="11.2" fill="#fff"/><rect class="b" x="1147.2" y="576" width="131.5" height="18.6" fill="#fff"/>
<text class="h" x="1213" y="554.9">MAJLIS JURUANALISIS MAKANAN</text><text class="g" x="1213" y="571.8">PTM, C48</text><text class="g" x="1213" y="586.7">IRMA BINTI MOHAMAD SAMSI</text>
</g>

<!-- COLUMN 8 -->
<g>
<rect class="b" x="1300.6" y="429.3" width="131.5" height="19.3" fill="#c3d69b"/><rect class="b" x="1300.6" y="448.6" width="131.5" height="11.2" fill="#fff"/><rect class="b" x="1300.6" y="459.8" width="131.5" height="19.8" fill="#fff"/>
<text class="h" x="1366.4" y="440.4">BHG. PEROLEHAN DAN PENSWASTAAN</text><text class="g" x="1366.4" y="455.6">PTD, JUSA C</text><text class="g" x="1366.4" y="471.1">WAN HASHIM BIN WAN RAHIM</text>
<rect class="b" x="1300.6" y="485.2" width="131.5" height="22.4" fill="#c3d69b"/><rect class="b" x="1300.6" y="507.6" width="131.5" height="11" fill="#fff"/><rect class="b" x="1300.6" y="518.6" width="131.5" height="18.1" fill="#fff"/>
<text class="h" x="1366.4" y="497.9">BHG. KEWANGAN</text><text class="g" x="1366.4" y="514.5">PTD, JUSA C</text><text class="g" x="1366.4" y="529.1">MOHD AZMAN BIN ISMAIL</text>
<rect class="b" x="1300.6" y="542" width="131.5" height="22.8" fill="#c3d69b"/><rect class="b" x="1300.6" y="564.8" width="131.5" height="11.2" fill="#fff"/><rect class="b" x="1300.6" y="576" width="131.5" height="18.6" fill="#fff"/>
<text class="h" x="1366.4" y="554.9">BHG. AKAUN</text><text class="g" x="1366.4" y="571.8">AKAUNTAN, JUSA C</text><text class="g" x="1366.4" y="586.7">SARIMAH BINTI HUSAIN</text>
</g>

<!-- INSTITUTES ROW 1 -->
<g>
<rect class="b" x="115" y="805.8" width="132" height="18.9" fill="#ccffff"/><rect class="b" x="115" y="824.7" width="132" height="11.3" fill="#fff"/><rect class="b" x="115" y="836" width="132" height="14.8" fill="#fff"/>
<text class="h" x="181" y="816.7">PENYELIDIKAN KLINIKAL MALAYSIA (CRM)</text><text class="g" x="181" y="831.4">TERBUKA JUSA C</text><text class="g" x="181" y="844.8">DR. AKHMAL YUSOF</text>
<rect class="b" x="261.4" y="805.8" width="131.5" height="18.9" fill="#ccffcc"/><rect class="b" x="261.4" y="824.7" width="131.5" height="11.3" fill="#fff"/><rect class="b" x="261.4" y="836" width="131.5" height="14.8" fill="#fff"/>
<text class="h" x="327.2" y="816.7" style="font-size:3.6px">INSTITUT PENYELIDIKAN PERUBATAN (IMR)</text><text class="g" x="327.2" y="831.4">PP/PQ, JUSA B</text><text class="g" x="327.2" y="844.8">DR. TAHIR BIN ARIS</text>
<rect class="b" x="407.8" y="805.8" width="131.5" height="18.9" fill="#ccffcc"/><rect class="b" x="407.8" y="824.7" width="131.5" height="11.3" fill="#fff"/><rect class="b" x="407.8" y="836" width="131.5" height="14.8" fill="#fff"/>
<text class="h" x="473.6" y="816.7">INSTITUT KESIHATAN UMUM (IKU)</text><text class="g" x="473.6" y="831.4">PP/ PQ, JUSA C</text><text class="g" x="473.6" y="844.8">DR. NOORANI BINTI AHMAD</text>
<rect class="b" x="561.6" y="805.8" width="131.5" height="18.9" fill="#ccffcc"/><rect class="b" x="561.6" y="824.7" width="131.5" height="11.3" fill="#fff"/><rect class="b" x="561.6" y="836" width="131.5" height="14.8" fill="#fff"/>
<text class="h" x="627.4" y="816.7">INSTITUT PENY. SISTEM KESIHATAN (IPSK)</text><text class="g" x="627.4" y="831.4">PP, JUSA C</text><text class="g" x="627.4" y="844.8">DR. NOR IZZAH BINTI HJ. AHMAD SHAUKI</text>
<rect class="b" x="708" y="805.8" width="131.5" height="18.9" fill="#ccffcc"/><rect class="b" x="708" y="824.7" width="131.5" height="11.3" fill="#fff"/><rect class="b" x="708" y="836" width="131.5" height="14.8" fill="#fff"/>
<text class="h" x="773.7" y="816.7">INSTITUT PENYELIDIKAN KLINIKAL (ICR)</text><text class="g" x="773.7" y="831.4">PP,  GRED U53/54/PAKAR UD55/56</text><text class="g" x="773.7" y="841.6">DATO' DR. GOH PIK PIN</text><text class="g" x="773.7" y="847.3">(PP,  UTAMA A)</text>
<rect class="b" x="854.3" y="805.8" width="131.5" height="18.9" fill="#ccffcc"/><rect class="b" x="854.3" y="824.7" width="131.5" height="11.3" fill="#fff"/><rect class="b" x="854.3" y="836" width="131.5" height="14.8" fill="#fff"/>
<text class="h" x="920" y="816.7">INSTITUT PENGURUSAN  KESIHATAN (IPK)</text><text class="g" x="920" y="831.4">PP/ PQ, UD53/54/Q53/54</text><text class="g" x="920" y="844.8">DR. NOR HAYATI BINTI IBRAHIM (UD56)</text>
<rect class="b" x="1000.6" y="805.8" width="131.5" height="18.9" fill="#ccffcc"/><rect class="b" x="1000.6" y="824.7" width="131.5" height="11.3" fill="#fff"/><rect class="b" x="1000.6" y="836" width="131.5" height="14.8" fill="#fff"/>
<text class="h" x="1066.4" y="813.9" style="font-size:3.6px">INSTITUT PENYELIDIKAN TINGKAHLAKU KESIHATAN</text><text class="h" x="1066.4" y="819.6">(IPTK)</text><text class="g" x="1066.4" y="831.4">PPK, PP, S54</text><text class="g" x="1066.4" y="844.8">DR. MANIMARAN A/L KRISHNAN KAUNDAN</text>
</g>

<!-- INSTITUTES ROW 2 -->
<g>
<rect class="b" x="115" y="857.3" width="132" height="18.7" fill="#ccffff"/><rect class="b" x="115" y="876" width="132" height="11" fill="#fff"/><rect class="b" x="115" y="887" width="132" height="15" fill="#fff"/>
<text class="h" x="181" y="868.1" style="font-size:3.6px">PIHAK BERKUASA PERANTI PERUBATAN (PBPP)</text><text class="g" x="181" y="882.9">TERBUKA JUSA C</text><text class="g" x="181" y="895.9">AHMAD SHARIFF BIN HAMBALI</text>
<rect class="b" x="261.4" y="857.3" width="131.5" height="18.7" fill="#ccffff"/><rect class="b" x="261.4" y="876" width="131.5" height="11" fill="#fff"/><rect class="b" x="261.4" y="887" width="131.5" height="15" fill="#fff"/>
<text class="h" x="327.2" y="868.1">MAJLIS PERUBATAN MALAYSIA (MMC)</text><text class="g" x="327.2" y="882.9">TERBUKA, 54</text><text class="g" x="327.2" y="895.9">DATO' DR. MOHD KHAIRI BIN YAKOB (UD54)</text>
<rect class="b" x="407.8" y="857.3" width="131.5" height="18.7" fill="#ccffff"/><rect class="b" x="407.8" y="876" width="131.5" height="11" fill="#fff"/><rect class="b" x="407.8" y="887" width="131.5" height="15" fill="#fff"/>
<text class="h" x="473.6" y="868.1" style="font-size:3.3px">MAJLIS PELANCONGAN KESIHATAN MALAYSIA (MHTC)</text><text class="g" x="473.6" y="882.9">KETUA PEGAWAI EKSEKUTIF</text><text class="g" x="473.6" y="895.9">SHERENE AZURA BINTI AZLI</text>
</g>

<!-- Pengarah Jabatan & Tarikh -->
<rect class="B" x="1300.6" y="807.5" width="139.4" height="48.5" fill="#ff9999"/>
<text class="h" x="1370.3" y="830.2">PENGARAH JABATAN KESIHATAN</text>
<text class="h" x="1370.3" y="836.9">NEGERI / INSTITUSI</text>
<rect x="1242" y="879" width="182" height="24" fill="#fff" stroke="#444" stroke-width=".6"/>
<text x="1333" y="893.3" style="font-weight:bold;font-size:6px">TARIKH KEMASKINI :  24 MEI 2021</text>
</svg>
</body></html>
